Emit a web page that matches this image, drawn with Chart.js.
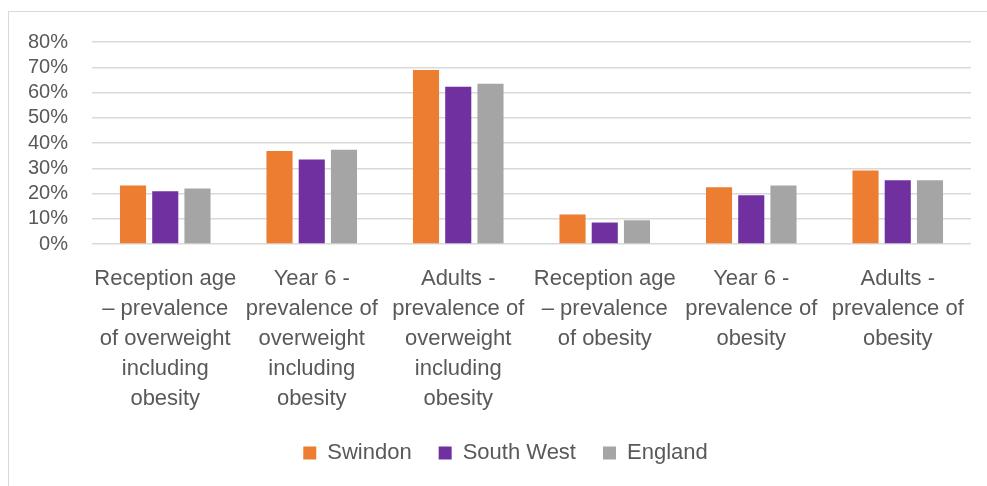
<!DOCTYPE html>
<html>
<head>
<meta charset="utf-8">
<script src="https://cdn.jsdelivr.net/npm/chart.js@4"></script>
<style>
    html, body { margin: 0; padding: 0; background: #ffffff; overflow: hidden; }
    #frame {
        position: absolute;
        left: 8px;
        top: 11px;
        width: 1000px;
        height: 500px;
        border: 1px solid #d9d9d9;
    }
    #wrap { position: absolute; left: 0; top: 0; width: 987px; height: 486px; }
</style>
</head>
<body>
<div id="frame"></div>
<div id="wrap"><canvas id="main-chart" width="987" height="486"></canvas></div>
<script>
// Category labels, already split into lines
const categories = [
    ['Reception age', '\u2013 prevalence', 'of overweight', 'including', 'obesity'],
    ['Year 6 -', 'prevalence of', 'overweight', 'including', 'obesity'],
    ['Adults -', 'prevalence of', 'overweight', 'including', 'obesity'],
    ['Reception age', '\u2013 prevalence', 'of obesity'],
    ['Year 6 -', 'prevalence of', 'obesity'],
    ['Adults -', 'prevalence of', 'obesity']
];

// Prevalence (%)
const swindon = [23.2, 36.8, 68.9, 11.7, 22.5, 29.1];
const southWest = [20.9, 33.5, 62.3, 8.5, 19.3, 25.2];
const england = [22.0, 37.3, 63.5, 9.4, 23.2, 25.2];

// Value axis: 0% to 80% in steps of 10
const yMin = 0;
const yMax = 80;
const yStep = 10;

const textColor = '#595959';
const gridColor = '#d9d9d9';

function barSet(label, data, color) {
    return {
        label: label,
        data: data,
        backgroundColor: color,
        borderWidth: 0,
        categoryPercentage: 0.66,
        barPercentage: 0.81
    };
}

// Nudge the legend a little to the right of the canvas centre
const legendShift = {
    id: 'legendShift',
    afterLayout(chart) {
        const legend = chart.legend;
        if (legend) {
            legend.left += 20;
            legend.right += 20;
        }
    }
};

const ctx = document.getElementById('main-chart').getContext('2d');

new Chart(ctx, {
    type: 'bar',
    data: {
        labels: categories,
        datasets: [
            barSet('Swindon', swindon, '#ed7d31'),
            barSet('South West', southWest, '#7030a0'),
            barSet('England', england, '#a5a5a5')
        ]
    },
    plugins: [legendShift],
    options: {
        responsive: false,
        animation: false,
        layout: {
            padding: { left: 0, right: 16, top: 42, bottom: 12 }
        },
        plugins: {
            tooltip: { enabled: false },
            legend: {
                display: true,
                position: 'bottom',
                labels: {
                    color: textColor,
                    boxWidth: 13,
                    boxHeight: 13,
                    padding: 27,
                    font: { family: 'Liberation Sans', size: 22 }
                }
            }
        },
        scales: {
            x: {
                grid: { display: false, drawTicks: false },
                border: { display: false },
                ticks: {
                    color: textColor,
                    autoSkip: false,
                    maxRotation: 0,
                    minRotation: 0,
                    padding: 20,
                    font: { family: 'Liberation Sans', size: 22, lineHeight: 30 / 22 }
                },
                afterFit: function(axis) {
                    axis.height = 171;
                }
            },
            y: {
                min: yMin,
                max: yMax,
                grid: {
                    color: gridColor,
                    lineWidth: 1.5,
                    drawTicks: false
                },
                border: { display: false },
                ticks: {
                    stepSize: yStep,
                    autoSkip: false,
                    color: textColor,
                    padding: 24,
                    font: { family: 'Liberation Sans', size: 20 },
                    callback: function(value) {
                        return value + '%';
                    }
                },
                afterFit: function(axis) {
                    axis.width = 92;
                }
            }
        }
    }
});
</script>
</body>
</html>
